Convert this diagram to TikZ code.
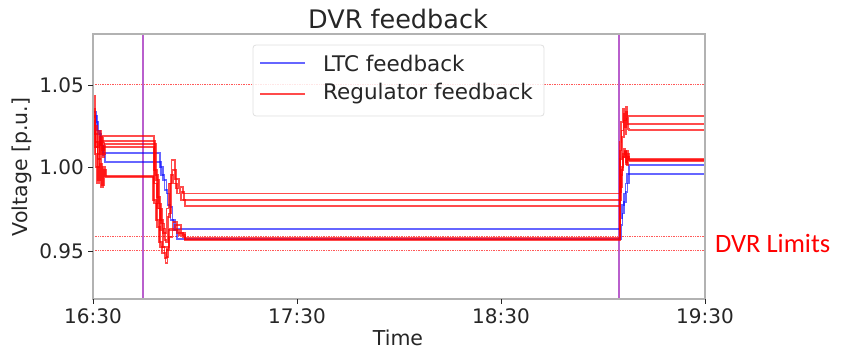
\documentclass[tikz,border=0pt]{standalone}
\usepackage{fontspec}
\setmainfont{DejaVu Sans}
\newfontfamily\calloutfont{Carlito}
\usetikzlibrary{positioning}
\definecolor{evpurple}{RGB}{185,95,205}
\definecolor{framegray}{RGB}{178,178,178}
\definecolor{textgray}{RGB}{38,38,38}
\tikzset{
  ltcline/.style={draw=blue,opacity=.6,line width=1.8pt},
  regline/.style={draw=red,opacity=.7,line width=1.8pt},
  limline/.style={red!65,densely dotted,line width=.7pt},
  eventline/.style={evpurple,line width=1.6pt},
  plotframe/.style={framegray,line width=1.3pt},
  tickmark/.style={textgray,line width=.8pt},
  ticklab/.style={inner sep=0pt,text=textgray,font=\fontsize{20}{24}\selectfont},
  axlab/.style={inner sep=0pt,text=textgray,font=\fontsize{20.5}{24}\selectfont},
  titlelab/.style={inner sep=0pt,text=textgray,font=\fontsize{25.5}{30}\selectfont},
  legtext/.style={inner sep=0pt,anchor=west,text=textgray,font=\fontsize{21.5}{24}\selectfont},
  legframe/.style={draw=gray!25,fill=white,fill opacity=.85,rounded corners=3pt,line width=.8pt},
  limitnote/.style={inner sep=0pt,anchor=west,text=red,font=\calloutfont\fontsize{26.5}{30}\selectfont}
}

\begin{document}
\begin{tikzpicture}[x=1pt,y=-1pt]
  \useasboundingbox (0,0) rectangle (856,350);

  % --- data, in hours after 16:30 and p.u. ---
  \begin{scope}[shift={(93pt,-1827pt)},x=204pt,y=1660pt]
    \clip (0,0.9205) rectangle (3,1.0801);

    % limits
    \draw[limline] (0,1.05) -- (3,1.05);
    \draw[limline] (0,0.958) -- (3,0.958);
    \draw[limline] (0,0.95) -- (3,0.95);

    % switching instants
    \draw[eventline] (0.245,0.9205) -- (0.245,1.0801);
    \draw[eventline] (2.578,0.9205) -- (2.578,1.0801);

    % LTC feedback
    \draw[ltcline] (0,1.033) -| (0.015,1.027) -| (0.025,1.02) -| (0.04,1.013) -| (0.05,1.0086)
      -| (0.33,1.0) -| (0.345,0.992) -| (0.36,0.984) -| (0.375,0.976) -| (0.39,0.968) -| (0.40,0.9627)
      -| (2.586,0.969) -| (2.594,0.977) -| (2.602,0.984) -| (2.61,0.99) -| (2.618,0.996) -| (2.626,1.0012) -- (3,1.0012);
    \draw[ltcline] (0,1.031) -| (0.02,1.022) -| (0.035,1.013) -| (0.05,1.007) -| (0.06,1.0028)
      -| (0.335,0.995) -| (0.35,0.986) -| (0.365,0.977) -| (0.38,0.968) -| (0.395,0.962) -| (0.41,0.9566)
      -| (2.588,0.965) -| (2.596,0.972) -| (2.604,0.979) -| (2.612,0.985) -| (2.62,0.99) -| (2.628,0.9956) -- (3,0.9956);

    % Regulator feedback
    \draw[regline] (0,1.043) -| (0.008,1.025) -| (0.02,1.012) -| (0.03,1.022) -| (0.04,1.015) -| (0.05,1.0187)
      -| (0.30,0.998) -| (0.315,0.982) -| (0.33,0.968) -| (0.345,0.960) -| (0.36,0.975) -| (0.37,0.99)
      -| (0.385,1.004) -| (0.40,0.993) -| (0.42,0.988) -| (0.44,0.984)
      -| (2.582,1.015) -| (2.59,1.027) -| (2.598,1.035) -| (2.606,1.028) -| (2.612,1.036) -| (2.618,1.03) -| (2.625,1.0307) -- (3,1.0307);
    \draw[regline] (0,1.035) -| (0.01,1.02) -| (0.022,1.008) -| (0.033,1.018) -| (0.045,1.01) -| (0.055,1.0157)
      -| (0.305,0.995) -| (0.32,0.978) -| (0.335,0.966) -| (0.35,0.956) -| (0.365,0.97) -| (0.378,0.99)
      -| (0.39,0.998) -| (0.405,0.987) -| (0.425,0.985) -| (0.445,0.980)
      -| (2.583,1.01) -| (2.591,1.022) -| (2.6,1.032) -| (2.607,1.024) -| (2.614,1.033) -| (2.62,1.026) -| (2.626,1.0259) -- (3,1.0259);
    \draw[regline] (0,1.03) -| (0.012,1.015) -| (0.025,1.005) -| (0.036,1.016) -| (0.046,1.008) -| (0.057,1.0137)
      -| (0.31,0.992) -| (0.325,0.975) -| (0.34,0.963) -| (0.355,0.955) -| (0.37,0.972) -| (0.383,0.995)
      -| (0.395,0.99) -| (0.41,0.984) -| (0.43,0.98) -| (0.45,0.9765)
      -| (2.584,1.005) -| (2.592,1.018) -| (2.601,1.028) -| (2.608,1.02) -| (2.615,1.029) -| (2.621,1.023) -| (2.627,1.0223) -- (3,1.0223);
    \draw[regline] (0,1.028) -| (0.01,1.012) -| (0.022,1.0) -| (0.032,1.014) -| (0.044,1.006) -| (0.055,1.0122)
      -| (0.30,0.99) -| (0.315,0.975) -| (0.33,0.962) -| (0.345,0.952) -| (0.36,0.946) -| (0.37,0.962)
      -| (0.39,0.967) -| (0.41,0.96) -| (0.44,0.9575)
      -| (2.582,0.98) -| (2.588,0.995) -| (2.596,1.006) -| (2.604,1.011) -| (2.61,1.003) -| (2.617,1.01) -| (2.624,1.0046) -- (3,1.0046);
    \draw[regline] (0,1.025) -| (0.01,1.008) -| (0.02,0.99) -| (0.03,1.005) -| (0.04,0.988) -| (0.05,1.0) -| (0.06,0.9945)
      -| (0.295,0.98) -| (0.31,0.968) -| (0.325,0.955) -| (0.34,0.948) -| (0.355,0.942) -| (0.365,0.952)
      -| (0.375,0.963) -| (0.40,0.965) -| (0.43,0.96) -| (0.45,0.9568)
      -| (2.583,0.985) -| (2.59,0.998) -| (2.598,1.008) -| (2.606,1.01) -| (2.613,1.002) -| (2.62,1.008) -| (2.626,1.004) -- (3,1.004);
    \draw[regline] (0,1.02) -| (0.012,1.0) -| (0.024,0.992) -| (0.034,1.002) -| (0.045,0.989) -| (0.055,0.998) -| (0.065,0.994)
      -| (0.30,0.978) -| (0.315,0.964) -| (0.33,0.952) -| (0.35,0.945) -| (0.36,0.95) -| (0.372,0.958)
      -| (0.39,0.962) -| (0.42,0.959) -| (0.45,0.9562)
      -| (2.584,0.988) -| (2.592,1.0) -| (2.6,1.006) -| (2.608,1.009) -| (2.615,1.001) -| (2.622,1.006) -| (2.628,1.0035) -- (3,1.0035);
  \end{scope}

  % --- axes ---
  \draw[plotframe] (93,34) rectangle (705,299);
  \draw[tickmark] (93,299) -- (93,304);
  \draw[tickmark] (297,299) -- (297,304);
  \draw[tickmark] (501,299) -- (501,304);
  \draw[tickmark] (705,299) -- (705,304);
  \draw[tickmark] (93,85) -- (88,85);
  \draw[tickmark] (93,167) -- (88,167);
  \draw[tickmark] (93,251) -- (88,251);

  \node[ticklab] (xa) at (93,316) {16:30};
  \node[ticklab] (xb) at (297,316) {17:30};
  \node[ticklab] (xc) at (501,316) {18:30};
  \node[ticklab] (xd) at (705,316) {19:30};
  \node[ticklab,anchor=east] (ya) at (84,85) {1.05};
  \node[ticklab,anchor=east] (yb) at (84,167) {1.00};
  \node[ticklab,anchor=east] (yc) at (84,251) {0.95};

  \node[titlelab] (title) at (398,19) {DVR feedback};
  \node[axlab] (xlab) at (398,338) {Time};
  \node[axlab,rotate=90] (ylab) at (22,167) {Voltage [p.u.]};

  % --- legend ---
  \draw[legframe] (253,45) rectangle (544,116);
  \node[legtext] (ltclab) at (323,63) {LTC feedback};
  \node[legtext] (reglab) at (323,94) {Regulator feedback};
  \draw[ltcline] ([xshift=-63pt]ltclab.west) -- ([xshift=-18pt]ltclab.west);
  \draw[regline] ([xshift=-63pt]reglab.west) -- ([xshift=-18pt]reglab.west);

  \node[limitnote] (dvrlim) at (715,243) {DVR Limits};

\end{tikzpicture}
\end{document}
